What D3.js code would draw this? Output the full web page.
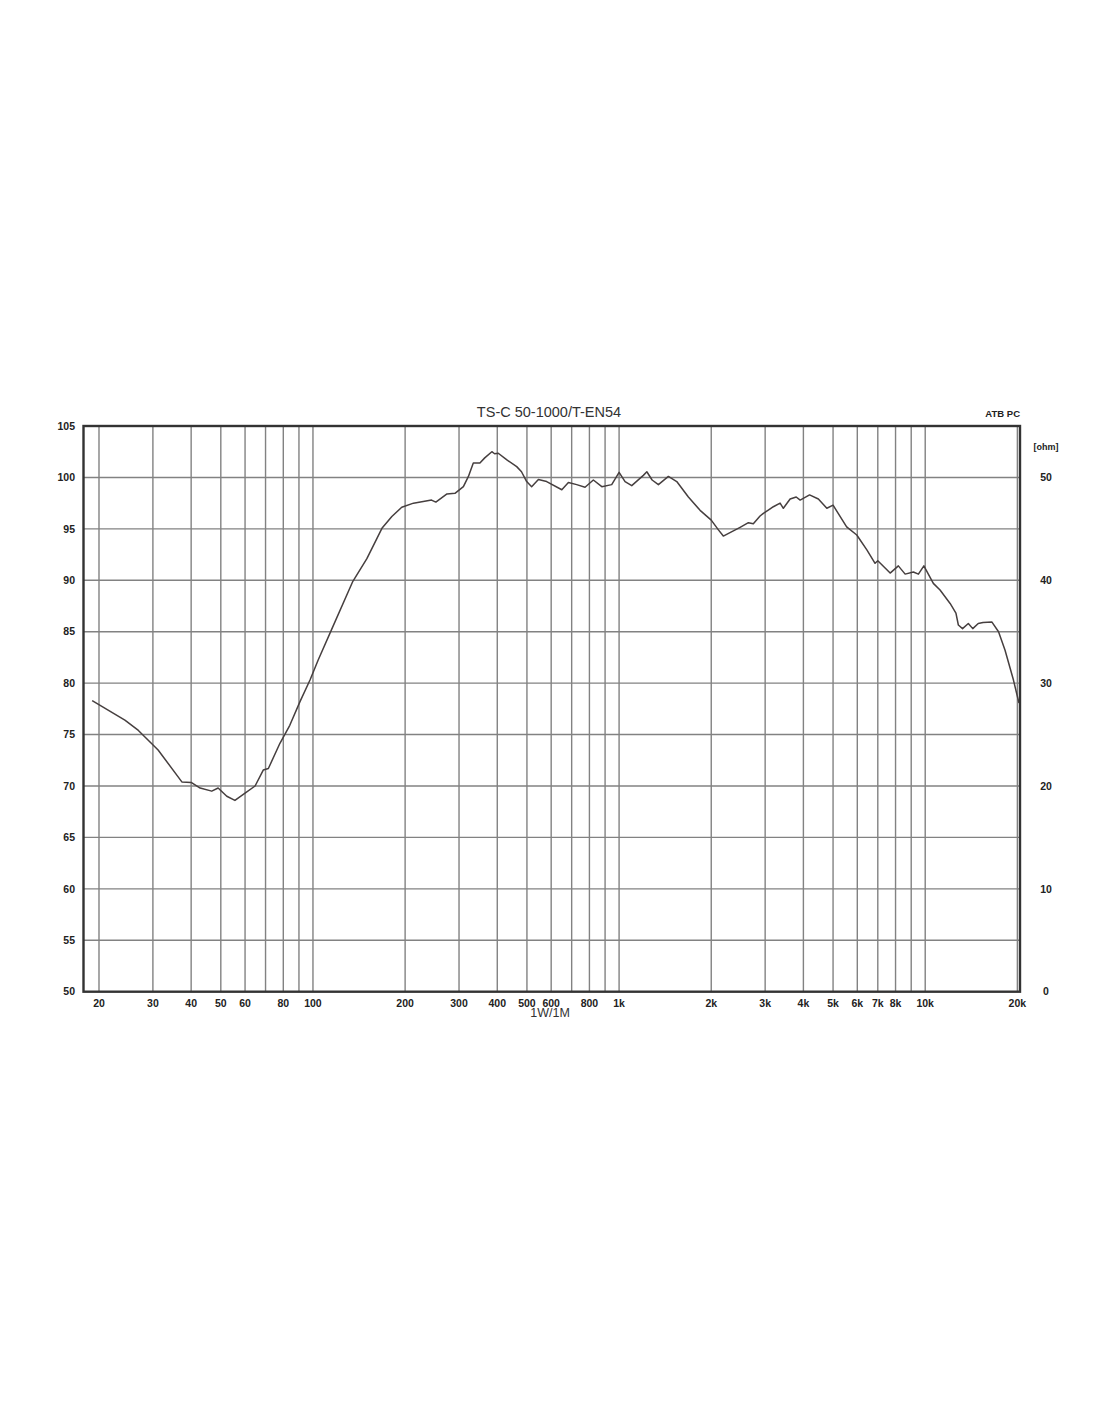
<!DOCTYPE html>
<html>
<head>
<meta charset="utf-8">
<script src="https://cdn.jsdelivr.net/npm/d3@7"></script>
<style>
  html, body { margin: 0; padding: 0; background: #fff; }
  svg text { font-family: "Liberation Sans", Arial, sans-serif; }
</style>
</head>
<body>
<svg id="chart" width="1100" height="1422"></svg>
<script>
// ---- data ----
const title = "TS-C 50-1000/T-EN54";
const xAxisLabel = "1W/1M";
const cornerLabel = "ATB PC";
const rightUnit = "[ohm]";

const freqHz = [19.0, 24.3, 26.9, 31.2, 37.3, 40, 42.8, 46.7, 49, 52.3, 55.6, 60, 64.7, 68.8, 71.5, 78, 84, 90.7, 97.8, 104,
  115, 135, 150, 168, 181, 195, 213, 244, 252, 274, 291, 310, 322, 334, 351, 364, 384, 392, 403, 430, 463, 480, 499, 518,
  545, 580, 650, 683, 727, 774, 824, 878, 946, 1000, 1046, 1100, 1200, 1232, 1282, 1344, 1449, 1543, 1684, 1839, 2000,
  2111, 2190, 2362, 2485, 2645, 2745, 2887, 2960, 3191, 3357, 3440, 3620, 3790, 3903, 4190, 4477, 4771, 5000, 5538, 5976, 6447, 6858, 7000, 7681, 8170,
  8600, 9150, 9500, 9900, 10630, 11180, 12060, 12600, 12830, 13240, 13830, 14300, 14900, 15450, 16500, 17360, 18230,
  19420, 20250];
const splDb = [78.3, 76.4, 75.4, 73.5, 70.4, 70.35, 69.8, 69.5, 69.8, 69.0, 68.6, 69.3, 70.0, 71.55, 71.7, 74.15, 75.9, 78.2, 80.3, 82.25,
  85.2, 89.9, 92.1, 95.05, 96.2, 97.1, 97.5, 97.8, 97.6, 98.4, 98.45, 99.1, 100.1, 101.4, 101.4, 101.9, 102.5, 102.3, 102.35, 101.7, 101.05, 100.55, 99.6, 99.1,
  99.8, 99.6, 98.8, 99.5, 99.3, 99.05, 99.75, 99.1, 99.3, 100.5, 99.6, 99.2, 100.2, 100.55, 99.75, 99.3, 100.1, 99.6, 98.1, 96.8, 95.85,
  94.9, 94.3, 94.8, 95.15, 95.6, 95.5, 96.25, 96.5, 97.15, 97.5, 97.0, 97.9, 98.1, 97.8, 98.3, 97.9, 97.0, 97.3, 95.2, 94.4, 92.95, 91.65, 91.9, 90.7, 91.4,
  90.6, 90.8, 90.6, 91.4, 89.7, 89.05, 87.75, 86.8, 85.65, 85.3, 85.8, 85.3, 85.8, 85.9, 85.95, 85.0, 83.2,
  80.3, 78.05];

const yTicksDb = [50, 55, 60, 65, 70, 75, 80, 85, 90, 95, 100, 105];
const yTicksOhm = [0, 10, 20, 30, 40, 50];
const gridFreqs = [20, 30, 40, 50, 60, 70, 80, 90, 100, 200, 300, 400, 500, 600, 700, 800, 900, 1000,
  2000, 3000, 4000, 5000, 6000, 7000, 8000, 9000, 10000, 20000];
const labelFreqs = [20, 30, 40, 50, 60, 80, 100, 200, 300, 400, 500, 600, 800, 1000, 2000, 3000, 4000, 5000, 6000, 7000, 8000, 10000, 20000];
const labelTexts = ["20", "30", "40", "50", "60", "80", "100", "200", "300", "400", "500", "600", "800", "1k", "2k", "3k", "4k", "5k", "6k", "7k", "8k", "10k", "20k"];

// ---- layout ----
const L = 83.5, R = 1020, T = 426, B = 991.7;
const svg = d3.select("#chart");
const x = d3.scaleLog().domain([17.8, 20400]).range([L, R]);
const y = d3.scaleLinear().domain([50, 105]).range([B, T]);
const yOhm = d3.scaleLinear().domain([0, 55]).range([B, T]);

// grid
const grid = svg.append("g");
grid.selectAll("line.v").data(gridFreqs).join("line")
  .attr("x1", d => x(d)).attr("x2", d => x(d)).attr("y1", T).attr("y2", B)
  .attr("stroke", "#828282").attr("stroke-width", 1.4);
grid.selectAll("line.h").data(yTicksDb.filter(d => d > 50 && d < 105)).join("line")
  .attr("x1", L).attr("x2", R).attr("y1", d => y(d)).attr("y2", d => y(d))
  .attr("stroke", "#828282").attr("stroke-width", 1.4);

// curve
const line = d3.line().x((d, i) => x(freqHz[i])).y(d => y(d));
svg.append("path").datum(splDb)
  .attr("d", line).attr("fill", "none")
  .attr("stroke", "#463f3f").attr("stroke-width", 1.5).attr("stroke-linejoin", "round");

// frame
svg.append("rect").attr("x", L).attr("y", T).attr("width", R - L).attr("height", B - T)
  .attr("fill", "none").attr("stroke", "#333").attr("stroke-width", 2.4);

// left axis labels
svg.append("g").selectAll("text").data(yTicksDb).join("text")
  .attr("x", 75).attr("y", d => y(d)).attr("dy", "0.36em")
  .attr("text-anchor", "end").attr("font-size", 10.5).attr("font-weight", "bold").attr("fill", "#222")
  .text(d => d);

// right axis labels
svg.append("g").selectAll("text").data(yTicksOhm).join("text")
  .attr("x", 1046).attr("y", d => yOhm(d)).attr("dy", "0.36em")
  .attr("text-anchor", "middle").attr("font-size", 10.5).attr("font-weight", "bold").attr("fill", "#222")
  .text(d => d);
svg.append("text").attr("x", 1046).attr("y", 447).attr("dy", "0.36em")
  .attr("text-anchor", "middle").attr("font-size", 9).attr("font-weight", "bold").attr("fill", "#222")
  .text(rightUnit);

// bottom labels
svg.append("g").selectAll("text").data(labelFreqs).join("text")
  .attr("x", d => x(d)).attr("y", 1003).attr("dy", "0.36em")
  .attr("text-anchor", "middle").attr("font-size", 10.5).attr("font-weight", "bold").attr("fill", "#222")
  .text((d, i) => labelTexts[i]);

// titles
svg.append("text").attr("x", 549).attr("y", 412).attr("dy", "0.36em")
  .attr("text-anchor", "middle").attr("font-size", 14.5).attr("fill", "#333").text(title);
svg.append("text").attr("x", 1020).attr("y", 414).attr("dy", "0.36em")
  .attr("text-anchor", "end").attr("font-size", 9.5).attr("font-weight", "bold").attr("fill", "#222").text(cornerLabel);
svg.append("text").attr("x", 550).attr("y", 1012.5).attr("dy", "0.36em")
  .attr("text-anchor", "middle").attr("font-size", 12.5).attr("fill", "#333").text(xAxisLabel);
</script>
</body>
</html>
